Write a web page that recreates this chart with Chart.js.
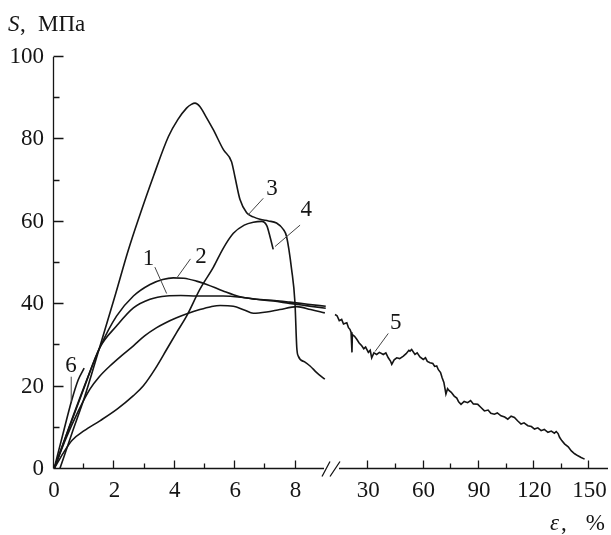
<!DOCTYPE html>
<html>
<head>
<meta charset="utf-8">
<script src="https://cdn.jsdelivr.net/npm/chart.js@4"></script>
<style>
    html, body { margin: 0; padding: 0; background: #fff; }
</style>
</head>
<body>
<canvas id="grafico" width="611" height="535"></canvas>
<script>
// ticks
var ticksY = [0, 10, 20, 30, 40, 50, 60, 70, 80, 90, 100]
var rotulosY = [0, 20, 40, 60, 80, 100]
var ticksEsq = [0, 1, 2, 3, 4, 5, 6, 7, 8]
var rotulosEsq = [0, 2, 4, 6, 8]
var ticksDir = [30, 45, 60, 75, 90, 105, 120, 135, 150]
var rotulosDir = [30, 60, 90, 120, 150]

// curva 1
var c1x = [0, 0.5, 1.0, 1.52, 2.07, 2.63, 3.18, 3.73, 4.2, 4.72, 5.6, 6.2, 6.71, 7.3, 7.81, 8.4, 9.0]
var c1y = [0, 10, 19.8, 29.5, 34.7, 39.1, 41.2, 42, 42.1, 42, 42, 41.7, 41.2, 40.9, 40.5, 40.0, 39.5]

// curva 2
var c2x = [0, 0.5, 1.0, 1.52, 2.07, 2.63, 3.18, 3.6, 3.95, 4.3, 4.72, 5.06, 5.6, 6.16, 6.7, 7.26, 7.8, 8.4, 9.0]
var c2y = [0, 10.2, 20, 29.5, 37.1, 42, 44.8, 46, 46.4, 46.3, 45.6, 44.8, 43.2, 41.8, 41.2, 40.8, 40.2, 39.6, 39.0]

// curva 3
var c3x = [0.19, 0.6, 1.01, 1.46, 2.0, 2.46, 2.79, 3.29, 3.79, 4.1, 4.39, 4.55, 4.67, 4.83, 5.05, 5.28, 5.61, 5.88,
    5.99, 6.16, 6.38, 6.6, 6.82, 7.1, 7.37, 7.6, 7.7, 7.87, 7.98, 8.04, 8.09, 8.3, 8.48, 8.7, 8.97]
var c3y = [0, 8.8, 17.4, 28.3, 41.5, 53.1, 60.5, 71, 80.7, 84.8, 87.6, 88.5, 88.8, 88, 85.3, 82.3, 77.5, 74.6,
    71, 65.4, 62.2, 61.2, 60.6, 60.2, 59.7, 58.1, 56.5, 48.4, 40.4, 29.5, 27.4, 26, 25, 23.4, 21.8]

// curva 4
var c4x = [0, 0.3, 0.6, 1.0, 1.52, 2.1, 2.63, 2.96, 3.35, 3.73, 4.05, 4.39, 4.83, 5.28, 5.6, 5.94, 6.3, 6.6, 6.88,
    7.05, 7.15, 7.26]
var c4y = [0, 3.8, 7, 9.3, 11.7, 14.6, 17.8, 20.2, 24.3, 29, 33, 37.1, 43.6, 49, 53.5, 57.2, 59.2, 59.9, 60.1,
    59, 56.5, 53.3]

// curva 5, parte ate 9 %
var c5x = [0, 0.4, 0.8, 1.19, 1.5, 1.85, 2.25, 2.63, 3.0, 3.4, 3.7, 4.06, 4.45, 4.83, 5.2, 5.5, 5.94, 6.3, 6.6,
    7.04, 7.48, 8.04, 8.5, 8.97]
var c5y = [0, 7.5, 14, 19.4, 22.4, 25, 27.6, 29.9, 32.3, 34.3, 35.5, 36.7, 37.8, 38.7, 39.4, 39.7, 39.5, 38.6, 37.8,
    38.1, 38.7, 39.4, 38.7, 37.9]

// curva 5, parte depois da quebra
var c5bx = [11.9, 13, 14.2, 15.5, 16.5, 18.3, 19.2, 20, 20.6, 21.1, 21.3, 22.5, 23.7, 25, 26.4, 27.5, 28.5, 30, 31,
    31.8, 33, 34.5, 36, 38.1, 39.5, 40.8, 42, 42.7, 44, 45.4, 47, 49, 50.5, 52, 52.6, 53.5, 55.3, 56.5, 58, 59.8,
    61, 62, 63.5, 65, 66, 67.1, 68, 69.2, 70, 71, 71.6, 72.1, 73, 73.9, 75, 76.6, 78, 79, 80.3, 82, 83.9, 85.5, 87,
    89.4, 91, 93, 95, 96.5, 98.4, 100, 102, 104, 105.7, 107.5, 109.3, 111, 112.9, 114.5, 116.6, 118.5, 120.2, 122,
    123.8, 125.5, 127.5, 129.3, 131, 132, 133, 133.8, 135, 136.5, 138.5, 140.2, 142, 143.8, 145.5, 147.4]
var c5by = [37.5, 37.2, 36, 36.3, 35.2, 35.5, 34.3, 33.9, 33.2, 28.3, 32.6, 32.2, 31.5, 30.6, 29.9, 29.2, 29.6, 28.3,
    28.8, 27, 28.2, 27.8, 28.3, 27.8, 28.2, 27, 26.2, 25.4, 26.5, 27, 26.8, 27.4, 28, 28.8, 28.6, 29, 27.8, 28.2,
    27.2, 26.6, 27, 26.1, 25.8, 25.6, 24.9, 25, 24.1, 23.4, 22.2, 21, 19.5, 18.2, 19.5, 19, 18.6, 17.7, 17.2, 16.3,
    15.7, 16.4, 16.1, 16.6, 15.8, 15.7, 15, 14.1, 14.3, 13.5, 13.3, 13.6, 12.9, 12.6, 12.1, 12.8, 12.5, 11.7, 10.9,
    11.2, 10.5, 10.3, 9.7, 10, 9.3, 9.6, 8.9, 9.2, 8.7, 9.1, 8.6, 7.7, 6.9, 6.1, 5.4, 4.4, 3.7, 3.2, 2.8, 2.4]

// curva 6
var c6x = [0, 0.3, 0.58, 0.8, 1.0]
var c6y = [0, 8.6, 16.5, 21.6, 24.5]

var fonte = { family: 'Liberation Serif', size: 23 }
var preto = '#151515'

function pontos(xs, ys) {
    var lista = []
    for (let i = 0; i < xs.length; i++) {
        lista.push({ x: xs[i], y: ys[i] })
    }
    return lista
}

function curva(xs, ys, eixo, suave) {
    return {
        data: pontos(xs, ys),
        xAxisID: eixo,
        yAxisID: 'y',
        showLine: true,
        borderColor: preto,
        borderWidth: 1.6,
        pointRadius: 0,
        cubicInterpolationMode: suave ? 'monotone' : 'default',
        tension: 0,
        fill: false
    }
}

// numeros das curvas: texto, eixo, posicao do numero, linha guia
var numeros = [
    ['1', 'x', 3.13, 51.1, 3.34, 49.0, 3.73, 42.6],
    ['2', 'x', 4.87, 51.5, 4.52, 51.0, 4.06, 46.3],
    ['3', 'x', 7.22, 68.0, 6.93, 65.7, 6.43, 61.7],
    ['4', 'x', 8.35, 62.9, 8.15, 59.2, 7.32, 54.0],
    ['5', 'x2', 44.9, 35.4, 40.8, 32.9, 33.6, 28.5],
    ['6', 'x', 0.56, 25.0, 0.57, 22.4, 0.57, 16.3]
]

const eixos = {
    id: 'eixos',
    afterDraw(chart) {
        const ctx = chart.ctx
        const sx = chart.scales.x
        const sx2 = chart.scales.x2
        const sy = chart.scales.y
        const y0 = Math.round(sy.getPixelForValue(0)) - 0.5
        const x0 = Math.round(sx.getPixelForValue(0)) - 0.5
        const quebra = sx.right

        ctx.save()
        ctx.strokeStyle = preto
        ctx.lineWidth = 1.3

        // eixo y
        ctx.beginPath()
        ctx.moveTo(x0, sy.getPixelForValue(100))
        ctx.lineTo(x0, y0)
        for (let i = 0; i < ticksY.length; i++) {
            var py = Math.round(sy.getPixelForValue(ticksY[i])) - 0.5
            var tam = rotulosY.includes(ticksY[i]) ? 10 : 6
            ctx.moveTo(x0, py)
            ctx.lineTo(x0 + tam, py)
        }

        // eixo x, duas partes
        ctx.moveTo(x0, y0)
        ctx.lineTo(quebra - 9, y0)
        ctx.moveTo(quebra + 6, y0)
        ctx.lineTo(sx2.right, y0)
        for (let i = 0; i < ticksEsq.length; i++) {
            var px = Math.round(sx.getPixelForValue(ticksEsq[i])) - 0.5
            var tam = rotulosEsq.includes(ticksEsq[i]) ? 8 : 5
            ctx.moveTo(px, y0)
            ctx.lineTo(px, y0 - tam)
        }
        for (let i = 0; i < ticksDir.length; i++) {
            var px = Math.round(sx2.getPixelForValue(ticksDir[i])) - 0.5
            var tam = rotulosDir.includes(ticksDir[i]) ? 8 : 5
            ctx.moveTo(px, y0)
            ctx.lineTo(px, y0 - tam)
        }

        // sinal de quebra //
        ctx.moveTo(quebra - 11, y0 + 8)
        ctx.lineTo(quebra - 3, y0 - 7)
        ctx.moveTo(quebra - 3, y0 + 8)
        ctx.lineTo(quebra + 7, y0 - 7)
        ctx.stroke()

        // numeros e linhas guia
        ctx.strokeStyle = '#444'
        ctx.lineWidth = 1
        ctx.fillStyle = preto
        ctx.font = '23px "Liberation Serif"'
        ctx.textAlign = 'center'
        ctx.textBaseline = 'middle'
        for (let i = 0; i < numeros.length; i++) {
            var n = numeros[i]
            var esc = chart.scales[n[1]]
            ctx.fillText(n[0], esc.getPixelForValue(n[2]), sy.getPixelForValue(n[3]))
            ctx.beginPath()
            ctx.moveTo(esc.getPixelForValue(n[4]), sy.getPixelForValue(n[5]))
            ctx.lineTo(esc.getPixelForValue(n[6]), sy.getPixelForValue(n[7]))
            ctx.stroke()
        }

        // titulos dos eixos
        ctx.textAlign = 'left'
        ctx.textBaseline = 'alphabetic'
        ctx.font = 'italic 23px "Liberation Serif"'
        ctx.fillText('S', 8, 31)
        ctx.fillText('ε', 550, 530)
        ctx.font = '23px "Liberation Serif"'
        ctx.fillText(',', 20, 31)
        ctx.fillText('МПа', 38, 31)
        ctx.fillText(',', 561, 530)
        ctx.textAlign = 'right'
        ctx.fillText('%', 605, 530)
        ctx.restore()
    }
}

function eixoX(ticks, rotulos, min, max, peso) {
    return {
        type: 'linear',
        position: 'bottom',
        stack: 'base',
        stackWeight: peso,
        min: min,
        max: max,
        grid: { display: false, drawTicks: false },
        border: { display: false },
        afterBuildTicks: function (s) {
            s.ticks = ticks.map(v => ({ value: v }))
        },
        afterFit: function (s) {
            s.height = 66
            s.paddingLeft = 0
            s.paddingRight = 0
        },
        ticks: {
            autoSkip: false,
            maxRotation: 0,
            padding: 8,
            color: preto,
            font: fonte,
            callback: function (v) {
                return rotulos.includes(v) ? String(v) : ''
            }
        }
    }
}

const config = {
    type: 'scatter',
    data: {
        datasets: [
            curva(c1x, c1y, 'x', true),
            curva(c2x, c2y, 'x', true),
            curva(c3x, c3y, 'x', true),
            curva(c4x, c4y, 'x', true),
            curva(c5x, c5y, 'x', true),
            curva(c6x, c6y, 'x', true),
            curva(c5bx, c5by, 'x2', false)
        ]
    },
    options: {
        responsive: false,
        animation: false,
        events: [],
        layout: { padding: { top: 57, right: 3, bottom: 0, left: 0 } },
        plugins: {
            legend: { display: false },
            tooltip: { enabled: false }
        },
        scales: {
            x: eixoX(ticksEsq, rotulosEsq, 0, 9.24, 279),
            x2: eixoX(ticksDir, rotulosDir, 10.8, 160.1, 275),
            y: {
                type: 'linear',
                position: 'left',
                min: 0,
                max: 100,
                grid: { display: false, drawTicks: false },
                border: { display: false },
                afterBuildTicks: function (s) {
                    s.ticks = ticksY.map(v => ({ value: v }))
                },
                afterFit: function (s) {
                    s.width = 54
                    s.paddingTop = 0
                    s.paddingBottom = 0
                },
                ticks: {
                    padding: 10,
                    color: preto,
                    font: fonte,
                    callback: function (v) {
                        return rotulosY.includes(v) ? String(v) : ''
                    }
                }
            }
        }
    },
    plugins: [eixos]
}

const grafico = new Chart(document.getElementById('grafico'), config)
</script>
</body>
</html>
